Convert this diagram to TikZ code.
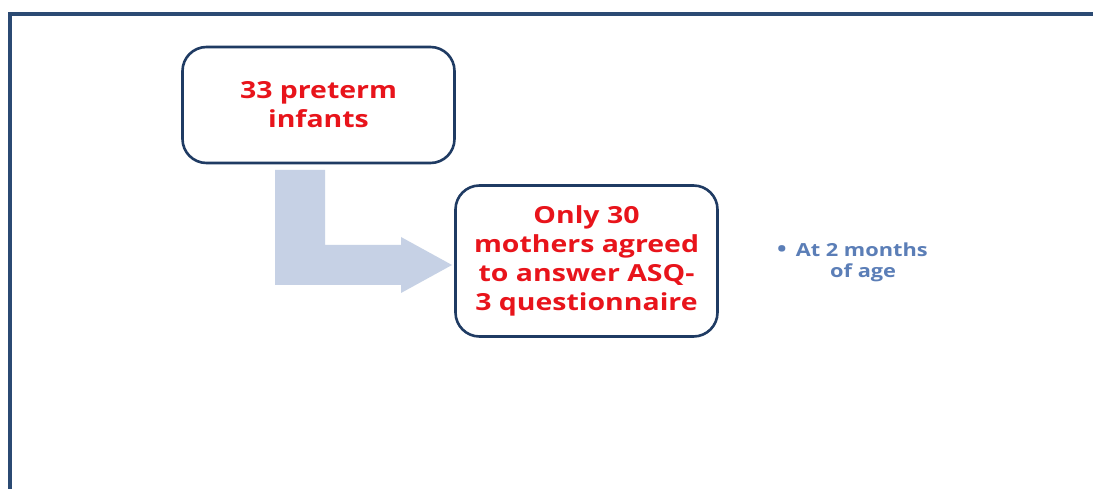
\documentclass[tikz,border=0pt]{standalone}
\usepackage{fontspec}
\setmainfont{Open Sans}
\newfontfamily\boxfont[FakeStretch=1.21]{Open Sans}
\definecolor{frameblue}{HTML}{2B4A73}
\definecolor{boxblue}{HTML}{1F3B63}
\definecolor{redtxt}{HTML}{E8141B}
\definecolor{arrowfill}{HTML}{C6D1E5}
\definecolor{bullettxt}{HTML}{5B7EB7}
\tikzset{
  flowbox/.style={draw=boxblue, line width=2.6pt, rounded corners=24pt, fill=white,
    text=redtxt, align=center, font=\boxfont\fontsize{23.5}{29}\selectfont\bfseries, inner sep=0pt},
  notetext/.style={text=bullettxt, align=left, font=\boxfont\fontsize{18}{23}\selectfont\bfseries, inner sep=0pt}
}
\begin{document}
\begin{tikzpicture}[x=1pt,y=-1pt]
\useasboundingbox (0,0) rectangle (1093,489);
\fill[white] (0,0) rectangle (1093,489);
% frame
\draw[frameblue, line width=3.2pt] (10,495) -- (10,14) -- (1100,14);
% boxes
\node[flowbox, minimum width=272pt, minimum height=116pt] (b1) at (318.5,105) {33 preterm\\infants};
\node[flowbox, minimum width=262pt, minimum height=151pt] (b2) at (586.5,261) {Only 30\\mothers agreed\\to answer ASQ-\\3 questionnaire};
% bent arrow
\fill[arrowfill] (275,170) -- (325,170) -- (325,245) -- (401,245) -- (401,237) -- (452,265) -- (401,293) -- (401,285) -- (275,285) -- cycle;
% note
\node[notetext, anchor=west] (n1) at (777,250) {{\fontsize{21}{23}\selectfont\textbullet}\hspace{9pt}At 2 months};
\node[notetext, anchor=west] (n2) at (830,273) {of age};
\end{tikzpicture}
\end{document}
